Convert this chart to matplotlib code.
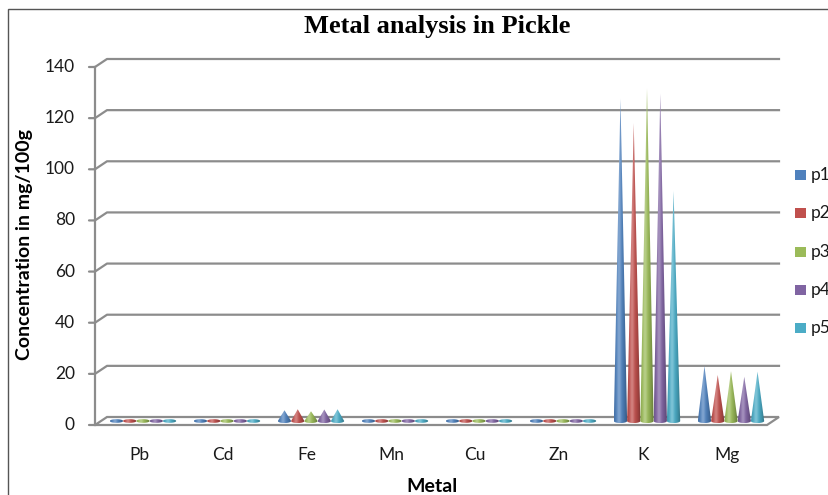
import numpy as np
import matplotlib.pyplot as plt
from matplotlib.patches import Polygon, Rectangle
from matplotlib.colors import to_rgb

# data
metals = ['Pb', 'Cd', 'Fe', 'Mn', 'Cu', 'Zn', 'K', 'Mg']
series = ['p1', 'p2', 'p3', 'p4', 'p5']
p1 = [0.2, 0.2, 4.2, 0.2, 0.2, 0.3, 126.0, 21.5]
p2 = [0.2, 0.2, 4.6, 0.2, 0.2, 0.3, 116.5, 18.0]
p3 = [0.2, 0.2, 3.8, 0.2, 0.2, 0.3, 130.0, 19.5]
p4 = [0.2, 0.2, 4.5, 0.2, 0.2, 0.3, 128.0, 17.3]
p5 = [0.2, 0.2, 4.6, 0.2, 0.2, 0.3, 90.0, 19.3]
values = [p1, p2, p3, p4, p5]
colors = ['#4F81BD', '#C0504D', '#9BBB59', '#8064A2', '#4BACC6']
y_ticks = list(range(0, 141, 20))

W, H = 829, 495
GRID = '#8c8c8c'
plt.rcParams['font.family'] = ['Lato', 'DejaVu Sans']

fig = plt.figure(figsize=(W / 100, H / 100), dpi=100)
ax = fig.add_axes([95 / W, 1 - 425 / H, 672 / W, 358 / H])
ax.set_xlim(-0.5, len(metals) - 0.5)
ax.set_ylim(0, 140)
ax.axis('off')

# 3d look: depth offset of the back wall, in data units
px_x = 672 / len(metals)
px_y = 358 / 140
dx = 12 / px_x
dy = 8 / px_y
x0, x1 = -0.5, len(metals) - 0.5

# floor
floor = Polygon([(x0, 0), (x1, 0), (x1 + dx, dy), (x0 + dx, dy)], closed=True,
                facecolor='white', edgecolor=GRID, lw=1.6, zorder=1, clip_on=False)
ax.add_patch(floor)

# back wall gridlines + slanted connectors + ticks
for v in y_ticks:
    if v > 0:
        ax.plot([x0, x0 + dx, x1 + dx], [v, v + dy, v + dy], color=GRID, lw=1.6,
                zorder=1, clip_on=False, solid_joinstyle='round')
    ax.annotate('', (x0, v), xytext=(-6, 0), textcoords='offset pixels',
                arrowprops=dict(arrowstyle='-', color=GRID, lw=1.6, shrinkA=0, shrinkB=0))
    ax.annotate(str(v), (x0, v), xytext=(-20, 0), textcoords='offset pixels',
                ha='right', va='center', fontsize=12.5, color='#1a1a1a')
ax.plot([x0, x0], [0, 140], color=GRID, lw=1.6, zorder=1, clip_on=False)

# category labels
for i, m in enumerate(metals):
    ax.annotate(m, (i, 0), xytext=(2, -30), textcoords='offset pixels',
                ha='center', va='center', fontsize=12.5, color='#1a1a1a')


def strip(color, n=64):
    c = np.array(to_rgb(color))
    t = np.linspace(0, 1, n)
    light = 0.28 * np.exp(-((t - 0.36) / 0.16) ** 2)
    dark = 0.38 * ((t - 0.36) / 0.64) ** 2
    rgb = c[None, :] * (1 - dark)[:, None] + (1 - c)[None, :] * light[:, None]
    return np.clip(rgb, 0, 1)[None, :, :].repeat(2, axis=0)


# cones
w = 0.158
ey = 0.8
ang = np.linspace(0, -np.pi, 30)
for j, (vals, col) in enumerate(zip(values, colors)):
    img = strip(col)
    for i, v in enumerate(vals):
        xc = i + (j - 2) * w + dx / 2
        base = dy / 2
        top = base + v
        ex = xc + (w / 2) * np.cos(ang)
        eyy = base + ey * np.sin(ang)
        if v < 2 * ey:
            full = np.linspace(0, 2 * np.pi, 60)
            pts = np.column_stack([xc + (w / 2) * np.cos(full), base + ey * 0.9 * np.sin(full)])
            top = base + ey
        else:
            pts = np.vstack([[xc, top], np.column_stack([ex, eyy])])
        clip = Polygon(pts, closed=True, transform=ax.transData)
        im = ax.imshow(img, extent=(xc - w / 2, xc + w / 2, base - ey, top),
                       aspect='auto', interpolation='bilinear', zorder=3)
        im.set_clip_path(clip)

ax.set_xlim(-0.5, len(metals) - 0.5)
ax.set_ylim(0, 140)

# legend
for j, (name, col) in enumerate(zip(series, colors)):
    yc = 175 + 38.3 * j
    fig.add_artist(Rectangle((795 / W, 1 - (yc + 5) / H), 11 / W, 10 / H,
                             transform=fig.transFigure, facecolor=col, edgecolor='none'))
    fig.text(811 / W, 1 - yc / H, name, ha='left', va='center', fontsize=12.5, color='#1a1a1a')

# titles
fig.text(437 / W, 1 - 26 / H, 'Metal analysis in Pickle', ha='center', va='center',
         fontsize=19, fontweight='bold', family='Liberation Serif')
fig.text(25 / W, 1 - 245 / H, 'Concentration in mg/100g', ha='center', va='center',
         rotation=90, fontsize=14, fontweight='bold')
fig.text(432 / W, 1 - 487 / H, 'Metal', ha='center', va='center', fontsize=14, fontweight='bold')

# outer chart border
fig.add_artist(Rectangle((8 / W, -0.1), 1.1, 1 - 9 / H + 0.1, transform=fig.transFigure,
                         facecolor='none', edgecolor='#555555', lw=1))

fig.savefig('out.png', dpi=100)
